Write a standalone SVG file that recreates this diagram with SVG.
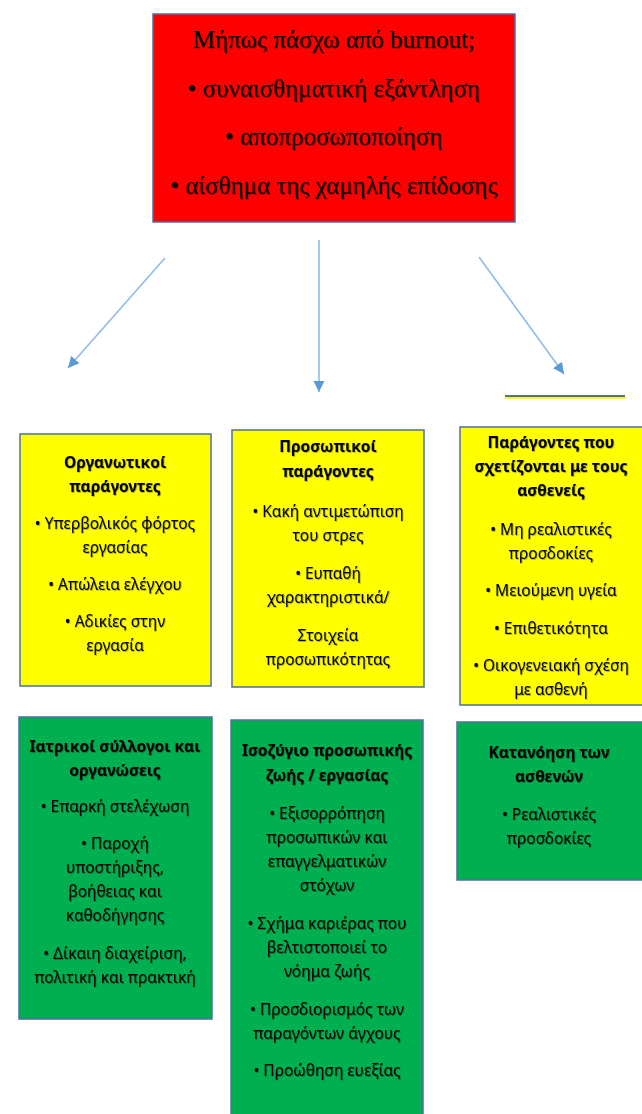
<svg xmlns="http://www.w3.org/2000/svg" width="642" height="1114" viewBox="0 0 642 1114">
<style>
.box{stroke:#4f6fa5;stroke-width:1.5}
.red{fill:#ff0000}
.yel{fill:#ffff00}
.grn{fill:#00b050}
.serif{font-family:"Liberation Serif","Times New Roman",serif;font-size:25px;fill:#000;text-anchor:middle;filter:url(#sh)}
.t{font-family:"Noto Sans","Open Sans",sans-serif;font-size:15.5px;fill:#000;text-anchor:middle;filter:url(#sh)}
.b{font-weight:bold}
.conn{stroke:#8fbbe6;stroke-width:1.6;fill:none}
</style>
<defs>
<filter id="sh" x="-5%" y="-20%" width="110%" height="150%">
<feDropShadow dx="0.8" dy="0.8" stdDeviation="0.6" flood-color="#000" flood-opacity="0.35"/>
</filter>
<marker id="ah" viewBox="0 0 10 10" refX="10" refY="5" markerWidth="7" markerHeight="7" orient="auto" markerUnits="strokeWidth">
<path d="M0,0 L10,5 L0,10 z" fill="#5b9bd5"/>
</marker>
</defs>
<g id="connectors">
<line class="conn" x1="165" y1="258" x2="68" y2="368" marker-end="url(#ah)"/>
<line class="conn" x1="319" y1="240" x2="319" y2="392" marker-end="url(#ah)"/>
<line class="conn" x1="479" y1="257" x2="564" y2="374" marker-end="url(#ah)"/>
</g>
<g id="top">
<rect class="box red" x="153" y="14" width="362" height="208"/>
<text class="serif" x="334" y="48">Μήπως πάσχω από burnout;</text>
<text class="serif" x="334" y="97">• συναισθηματική εξάντληση</text>
<text class="serif" x="334" y="145">• αποπροσωποποίηση</text>
<text class="serif" x="334" y="194">• αίσθημα της χαμηλής επίδοσης</text>
</g>
<g id="fragment">
<rect x="505" y="397" width="120" height="2" fill="#ffff00"/>
<line x1="505" y1="396" x2="625" y2="396" stroke="#4f6fa5" stroke-width="2"/>
</g>
<g id="org">
<rect class="box yel" x="20" y="434" width="191" height="252"/>
<text class="t b" x="115" y="468">Οργανωτικοί</text>
<text class="t b" x="115" y="492">παράγοντες</text>
<text class="t" x="115" y="529">• Υπερβολικός φόρτος</text>
<text class="t" x="115" y="553">εργασίας</text>
<text class="t" x="115" y="590">• Απώλεια ελέγχου</text>
<text class="t" x="115" y="627">• Αδικίες στην</text>
<text class="t" x="115" y="651">εργασία</text>
</g>
<g id="pers">
<rect class="box yel" x="232" y="430" width="192" height="257"/>
<text class="t b" x="328" y="452">Προσωπικοί</text>
<text class="t b" x="328" y="477">παράγοντες</text>
<text class="t" x="328" y="517">• Κακή αντιμετώπιση</text>
<text class="t" x="328" y="541">του στρες</text>
<text class="t" x="328" y="579">• Ευπαθή</text>
<text class="t" x="328" y="603">χαρακτηριστικά/</text>
<text class="t" x="328" y="641">Στοιχεία</text>
<text class="t" x="328" y="665">προσωπικότητας</text>
</g>
<g id="pat">
<rect class="box yel" x="460" y="427" width="190" height="278"/>
<text class="t b" x="551" y="448">Παράγοντες που</text>
<text class="t b" x="551" y="472">σχετίζονται με τους</text>
<text class="t b" x="551" y="496">ασθενείς</text>
<text class="t" x="551" y="535">• Μη ρεαλιστικές</text>
<text class="t" x="551" y="559">προσδοκίες</text>
<text class="t" x="551" y="596">• Μειούμενη υγεία</text>
<text class="t" x="551" y="634">• Επιθετικότητα</text>
<text class="t" x="551" y="671">• Οικογενειακή σχέση</text>
<text class="t" x="551" y="695">με ασθενή</text>
</g>
<g id="med">
<rect class="box grn" x="19" y="717" width="193" height="302"/>
<text class="t b" x="115" y="752">Ιατρικοί σύλλογοι και</text>
<text class="t b" x="115" y="776">οργανώσεις</text>
<text class="t" x="115" y="812">• Επαρκή στελέχωση</text>
<text class="t" x="115" y="849">• Παροχή</text>
<text class="t" x="115" y="873">υποστήριξης,</text>
<text class="t" x="115" y="897">βοήθειας και</text>
<text class="t" x="115" y="921">καθοδήγησης</text>
<text class="t" x="115" y="959">• Δίκαιη διαχείριση,</text>
<text class="t" x="115" y="983">πολιτική και πρακτική</text>
</g>
<g id="bal">
<rect class="box grn" x="231" y="720" width="192" height="400"/>
<text class="t b" x="327" y="756">Ισοζύγιο προσωπικής</text>
<text class="t b" x="327" y="781">ζωής / εργασίας</text>
<text class="t" x="327" y="819">• Εξισορρόπηση</text>
<text class="t" x="327" y="843">προσωπικών και</text>
<text class="t" x="327" y="867">επαγγελματικών</text>
<text class="t" x="327" y="891">στόχων</text>
<text class="t" x="327" y="929">• Σχήμα καριέρας που</text>
<text class="t" x="327" y="953">βελτιστοποιεί το</text>
<text class="t" x="327" y="977">νόημα ζωής</text>
<text class="t" x="327" y="1015">• Προσδιορισμός των</text>
<text class="t" x="327" y="1039">παραγόντων άγχους</text>
<text class="t" x="327" y="1076">• Προώθηση ευεξίας</text>
</g>
<g id="und">
<rect class="box grn" x="457" y="722" width="193" height="158"/>
<text class="t b" x="549" y="758">Κατανόηση των</text>
<text class="t b" x="549" y="782">ασθενών</text>
<text class="t" x="549" y="820">• Ρεαλιστικές</text>
<text class="t" x="549" y="844">προσδοκίες</text>
</g>
</svg>
